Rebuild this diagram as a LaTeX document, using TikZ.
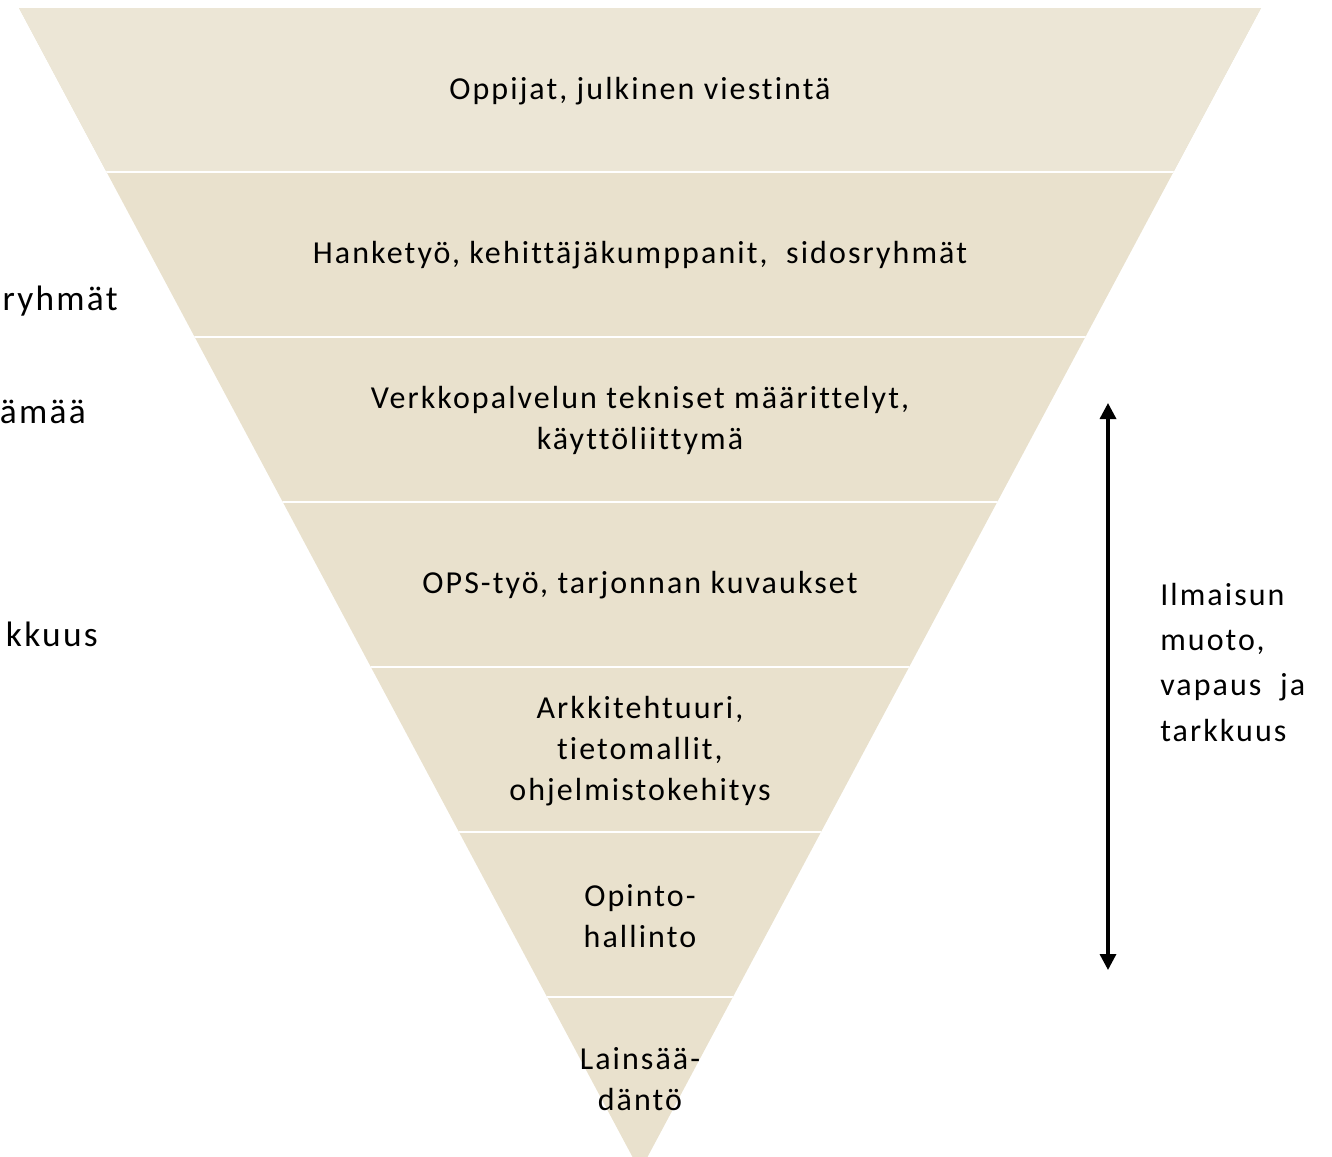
\documentclass[tikz,border=0pt]{standalone}
\usepackage{fontspec}
\setmainfont[LetterSpace=6.5,Ligatures=NoCommon]{Carlito}
\usepackage{xcolor}
\usetikzlibrary{arrows.meta}
\definecolor{bandtop}{HTML}{ECE6D6}
\definecolor{bandbody}{HTML}{E9E1CD}
\tikzset{
  bandlabel/.style={align=center,font=\fontsize{24}{30.75}\selectfont,inner sep=0pt},
  sidelabel/.style={anchor=base east,font=\fontsize{26.5}{32}\selectfont,inner sep=0pt},
  gap/.style={white,line width=1.6pt},
  bothtips/.style={{Triangle[width=12pt,length=12pt]}-{Triangle[width=12pt,length=12pt]},line width=2.5pt},
}

\begin{document}
\begin{tikzpicture}[x=0.75pt,y=-0.75pt]
  \clip (0,0) rectangle (1332,1157);
  % funnel
  \fill[bandbody] (19,8) -- (1261,8) -- (640,1171) -- cycle;
  \fill[bandtop] (19,8) -- (1261,8) -- (1173.4,172) -- (106.6,172) -- cycle;
  \begin{scope}
    \clip (19,8) -- (1261,8) -- (640,1171) -- cycle;
    \foreach \y in {172,337,502,667,832,997} {\draw[gap] (0,\y) -- (1332,\y);}
  \end{scope}
  \node[bandlabel] (oppijat) at (640,91) {Oppijat, julkinen viestintä};
  \node[bandlabel] (hanke) at (640,255) {Hanketyö, kehittäjäkumppanit,\ \ sidosryhmät};
  \node[bandlabel] (verkko) at (640,420) {Verkkopalvelun tekniset määrittelyt,\\käyttöliittymä};
  \node[bandlabel] (ops) at (640,585) {OPS-työ, tarjonnan kuvaukset};
  \node[bandlabel] (arkki) at (640,751) {Arkkitehtuuri,\\tietomallit,\\ohjelmistokehitys};
  \node[bandlabel] (opinto) at (640,916) {Opinto-\\hallinto};
  \node[bandlabel] (laki) at (640,1079) {Lainsää-\\däntö};
  % cut-off labels on the left
  \node[sidelabel] (ryhmat) at (118,310) {ryhmät};
  \node[sidelabel] (amaa) at (86,423) {ämää};
  \node[sidelabel] (kkuus) at (98,646) {kkuus};
  % right side
  \coordinate (ylin) at (1108,403);
  \coordinate (alin) at (1108,970);
  \draw[bothtips] (ylin) -- (alin);
  \node[anchor=west,align=left,inner sep=0pt,font=\fontsize{24}{34}\selectfont] (ilmaisu) at (1160,662) {Ilmaisun\\muoto,\\vapaus\ \ ja\\tarkkuus};
\end{tikzpicture}
\end{document}
